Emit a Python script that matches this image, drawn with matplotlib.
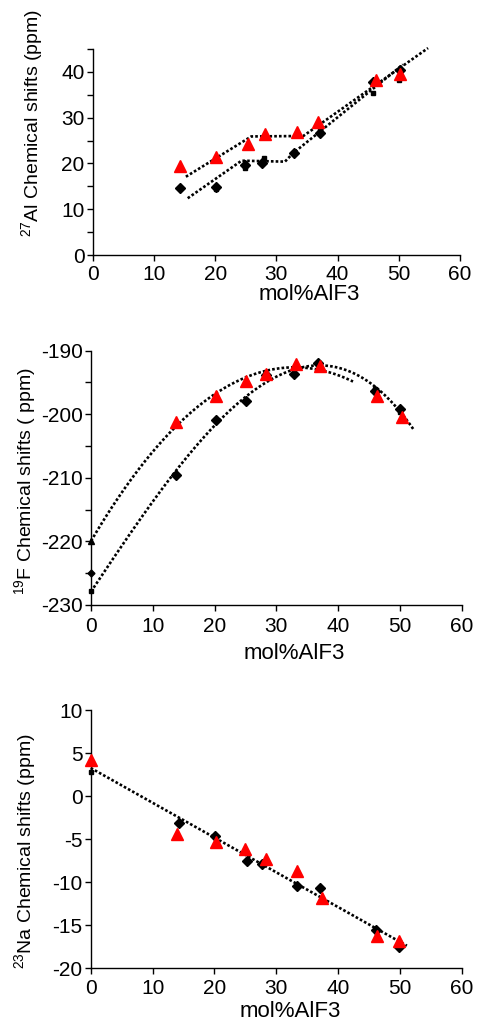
import numpy as np
import matplotlib
matplotlib.use("Agg")
import matplotlib.pyplot as plt

plt.rcParams['font.family'] = ['Liberation Sans', 'DejaVu Sans']
plt.rcParams['mathtext.fontset'] = 'custom'
plt.rcParams['mathtext.rm'] = 'Liberation Sans'
plt.rcParams['mathtext.it'] = 'Liberation Sans:italic'
plt.rcParams['axes.unicode_minus'] = False

# ---- 27Al panel ----
al_red_x = [14.3, 20.1, 25.3, 28.2, 33.3, 36.8, 46.3, 50.2]
al_red_y = [19.5, 21.4, 24.3, 26.5, 26.8, 29.1, 38.3, 39.6]
al_dia_x = [14.3, 20.1, 24.8, 27.7, 32.9, 37.1, 45.8, 50.2]
al_dia_y = [14.6, 14.9, 19.7, 20.2, 22.2, 26.7, 37.9, 40.5]
al_sq_x = [20.1, 24.9, 28.0, 37.1, 45.8, 50.0]
al_sq_y = [14.4, 19.0, 21.1, 27.2, 35.3, 38.3]
# dotted guide lines (vertices)
al_up_x = [15.2, 25.9, 34.4, 54.8]
al_up_y = [17.1, 25.9, 26.0, 45.2]
al_lo_x = [15.5, 24.3, 31.4, 32.7, 50.7]
al_lo_y = [12.4, 20.6, 20.4, 22.2, 41.6]

# ---- 19F panel ----
f_red_x = [13.7, 20.3, 25.1, 28.4, 33.1, 37.1, 46.3, 50.4]
f_red_y = [-201.3, -197.1, -194.8, -193.6, -192.1, -192.4, -197.1, -200.5]
f_dia_x = [13.7, 20.3, 25.1, 28.4, 32.9, 36.8, 46.0, 50.0]
f_dia_y = [-209.5, -200.9, -197.9, -193.8, -193.6, -192.0, -196.4, -199.1]
f_sq_x = [46.0, 50.0]
f_sq_y = [-196.0, -199.6]
# small black markers at x = 0
f0_tri = -220.0
f0_dia = -225.0
f0_sq = -227.8

# ---- 23Na panel ----
na_red_x = [0, 13.9, 20.2, 24.9, 28.3, 33.4, 37.4, 46.2, 49.9]
na_red_y = [4.2, -4.4, -5.3, -6.2, -7.3, -8.7, -11.8, -16.2, -16.8]
na_dia_x = [14.3, 20.1, 25.3, 27.7, 33.4, 37.0, 46.1, 49.9]
na_dia_y = [-3.1, -4.6, -7.5, -7.9, -10.4, -10.7, -15.5, -17.5]
na_sq_x = [0, 49.9]
na_sq_y = [2.8, -16.9]

DOT = dict(color='black', linestyle=(0, (1, 0.8)), linewidth=1.9, zorder=2)
RED = dict(marker='^', color='#ff0000', markersize=8, linestyle='none', zorder=4)
DIA = dict(marker='D', color='black', markersize=5.5, linestyle='none', zorder=3)
SQ = dict(marker='s', color='black', markersize=3.5, linestyle='none', zorder=3)
TICK = 15
LAB = 16


def style(ax, ylo, yhi, major, minor=None, xpad=3):
    ax.set_xlim(0, 60)
    ax.set_ylim(ylo, yhi)
    ax.set_xticks(range(0, 61, 10))
    ax.set_yticks(np.arange(ylo, yhi + 0.1, major))
    if minor:
        ax.set_yticks(np.arange(ylo, yhi + 0.1, minor), minor=True)
    for s in ['top', 'right']:
        ax.spines[s].set_visible(False)
    for s in ['left', 'bottom']:
        ax.spines[s].set_linewidth(1.0)
    ax.tick_params(which='both', direction='out', length=4, width=1.0,
                   labelsize=TICK, pad=2)
    ax.tick_params(axis='x', pad=xpad)
    ax.patch.set_alpha(0)


fig = plt.figure(figsize=(4.79, 10.25), dpi=100)

ax1 = fig.add_axes([0.194, 0.7512, 0.766, 0.201])
ax1.plot(al_up_x, al_up_y, **DOT)
ax1.plot(al_lo_x, al_lo_y, **DOT)
ax1.plot(al_sq_x, al_sq_y, **SQ)
ax1.plot(al_dia_x, al_dia_y, **DIA)
ax1.plot(al_red_x, al_red_y, **RED)
style(ax1, 0, 45, 10, 5, xpad=3)
ax1.set_yticks(range(0, 41, 10))
ax1.set_xlabel('mol%AlF3', fontsize=LAB)
ax1.xaxis.set_label_coords(0.589, -0.14)

ax2 = fig.add_axes([0.190, 0.4098, 0.774, 0.2481])
# polynomial trend lines of the two series
up = np.polyfit([0] + f_red_x, [f0_tri] + f_red_y, 2)
xu = np.linspace(0, 42.4, 200)
ax2.plot(xu, np.polyval(up, xu), **DOT)
lo = np.polyfit([0] + f_dia_x, [f0_sq] + f_dia_y, 3)
xl = np.linspace(0, 52.2, 200)
ax2.plot(xl, np.polyval(lo, xl), **DOT)
ax2.plot(f_sq_x, f_sq_y, **SQ)
ax2.plot(f_dia_x, f_dia_y, **DIA)
ax2.plot([0], [f0_tri], marker='^', color='black', markersize=5,
         linestyle='none', zorder=3)
ax2.plot([0], [f0_dia], marker='D', color='black', markersize=3.5,
         linestyle='none', zorder=3)
ax2.plot([0], [f0_sq], **SQ)
ax2.plot(f_red_x, f_red_y, **RED)
style(ax2, -230, -190, 10, 5, xpad=5)
ax2.set_xlabel('mol%AlF3', fontsize=LAB)
ax2.xaxis.set_label_coords(0.548, -0.148)

ax3 = fig.add_axes([0.1894, 0.0553, 0.775, 0.252])
lin = np.polyfit(na_red_x + na_dia_x, na_red_y + na_dia_y, 1)
xs = np.linspace(0, 51.1, 100)
ax3.plot(xs, np.polyval(lin, xs), **DOT)
ax3.plot(na_sq_x, na_sq_y, **SQ)
ax3.plot(na_dia_x, na_dia_y, **DIA)
ax3.plot(na_red_x, na_red_y, **RED)
style(ax3, -20, 10, 5, xpad=4)
ax3.set_xlabel('mol%AlF3', fontsize=LAB)
ax3.xaxis.set_label_coords(0.537, -0.127)

for ax in (ax1, ax2, ax3):
    for a in ax.lines:
        a.set_clip_on(False)

fig.text(32 / 479, 1 - 123 / 1025, r'$^{27}$Al Chemical shifts (ppm)',
         rotation=90, ha='center', va='center', fontsize=14)
fig.text(25 / 479, 1 - 481 / 1025, r'$^{19}$F Chemical shifts ( ppm)',
         rotation=90, ha='center', va='center', fontsize=14)
fig.text(25 / 479, 1 - 851 / 1025, r'$^{23}$Na Chemical shifts (ppm)',
         rotation=90, ha='center', va='center', fontsize=14)

fig.savefig('out.png', dpi=100)
